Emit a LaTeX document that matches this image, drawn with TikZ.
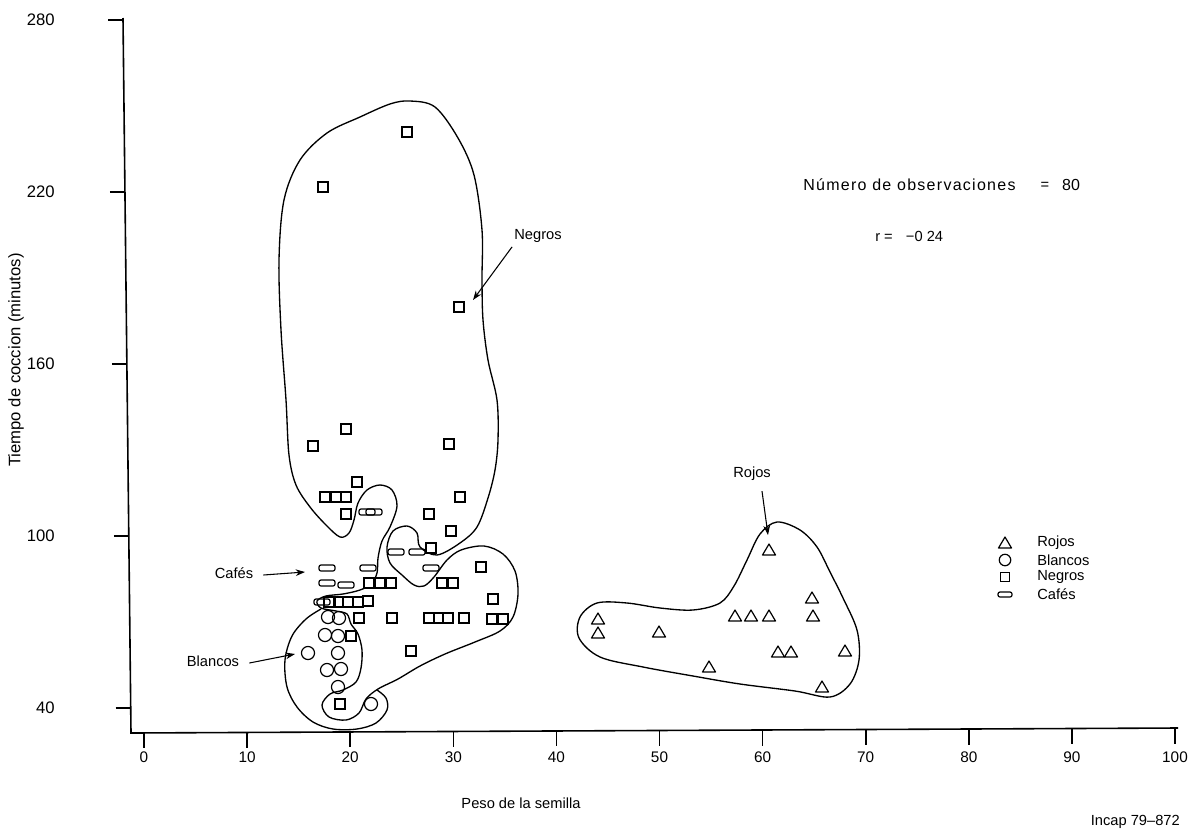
\documentclass[tikz,border=0pt]{standalone}
\usepackage{fontspec}
\setmainfont{Liberation Sans}
\usetikzlibrary{arrows.meta}

\tikzset{
  eje/.style={line width=1.2pt},
  contorno/.style={line width=1pt,line join=round},
  pto/.style={line width=0.9pt},
  txt/.style={font=\fontsize{11}{13}\selectfont,inner sep=0pt},
  num/.style={font=\fontsize{11.5}{13}\selectfont,inner sep=0pt},
  flecha/.style={-{Stealth[length=7pt,width=5pt]},line width=0.8pt},
}

\begin{document}
\begin{tikzpicture}[x=0.75pt,y=0.75pt,yscale=-1]
\useasboundingbox (0,0) rectangle (1199,836);

% ejes
\draw[eje] (123,18) -- (131,733) -- (1178,728);

\foreach \k in {0,...,10}
  {\pgfmathsetmacro\xt{144+103.1*\k}
   \pgfmathsetmacro\yt{733-4*(\xt-131)/1047}
   \draw[eje] (\xt,\yt) -- (\xt,\yt+15);
   \node[num] (tx\k) at (\xt,757) {\number\numexpr10*\k\relax};}

\foreach \v in {280,220,160,100,40}
  {\pgfmathsetmacro\yt{708-(\v-40)*2.867}
   \pgfmathsetmacro\xa{123+8*(\yt-18)/715}
   \draw[eje] (\xa-15,\yt) -- (\xa,\yt);
   \node[num,font=\fontsize{12.5}{15}\selectfont,anchor=east] (ty\v) at (55,\yt) {\v};}

\node[txt,font=\fontsize{12.5}{15}\selectfont,rotate=90] (ylab) at (16,360) {Tiempo de coccion (minutos)};
\node[txt] (xlab) at (521,803) {Peso de la semilla};
\node[txt,anchor=east] (ref) at (1180,822) {Incap 79--872};

% contornos
\draw[contorno] plot[smooth cycle,tension=0.55] coordinates {
  (410,101) (390,104) (360,117) (327,133) (300,160) (284,200) (279,260)
  (281,330) (286,400) (289,455) (296,485) (310,507) (326,525) (340,537)
  (349,533) (354,520) (358,503) (367,490) (380,485) (392,490) (397,506)
  (390,527) (382,541) (378,558) (377,573) (371,584) (360,590) (343,594)
  (326,596) (317,601) (321,608) (336,611) (347,614) (351,624) (358,634)
  (362,650) (361,668) (356,682) (343,690) (330,694) (322,705) (329,717)
  (346,720) (359,713) (366,699) (378,689) (398,679) (420,666) (445,654)
  (475,642) (500,631) (513,617) (518,594) (515,571) (503,554) (484,546)
  (461,550) (447,560) (434,577) (424,586) (414,585) (402,575) (390,563)
  (387,547) (393,531) (407,526) (417,533) (420,547) (437,555) (460,543)
  (477,527) (488,498) (495,470) (498,440) (497,400) (488,360) (483,320)
  (482,280) (482,230) (474,175) (458,138) (435,107)};

\draw[contorno] plot[smooth,tension=0.55] coordinates {
  (321,609) (306,619) (292,636) (285,660) (287,687) (297,707) (313,722)
  (333,729) (357,729) (376,723) (387,710) (386,698) (377,690)};

\draw[contorno] plot[smooth cycle,tension=0.55] coordinates {
  (777,522) (800,530) (817,547) (830,572) (843,598) (857,630) (859,660)
  (850,684) (830,697) (795,691) (740,684) (693,676) (643,667) (600,657)
  (579,638) (580,617) (597,603) (627,603) (660,608) (693,610) (720,603)
  (734,586) (747,560) (760,534)};

% negros
\foreach \x/\y in {407/132, 323/187, 459/307, 346/429, 313/446, 449/444,
    357/482, 460/497, 325/497, 336/497, 346/497, 346/514, 429/514, 451/531,
    431/548, 481/567, 369/583, 380/583, 391/583, 442/583, 453/583, 493/599,
    329/602, 340/602, 348/602, 358/602, 368/601, 359/618, 392/618, 429/618,
    439/618, 448/618, 464/618, 492/619, 503/619, 351/636, 411/651, 340/704}
  {\draw[pto,fill=white] (\x-5,\y-5) rectangle ++(10,10);}

% cafes
\foreach \x/\y in {367/512, 374/512, 396/552, 417/552, 327/568, 368/568,
    431/568, 327/583, 346/585, 322/602}
  {\draw[pto,rounded corners=1.5pt] (\x-8,\y-3) rectangle ++(16,6);}

% blancos
\foreach \x/\y in {328/617, 339/618, 325/635, 338/636, 308/653, 338/653,
    327/670, 341/669, 338/687, 371/704}
  {\draw[pto] (\x,\y) circle[radius=4.9pt];}

% rojos
\foreach \x/\y in {769/550, 812/598, 598/619, 598/633, 659/632, 735/616,
    751/616, 769/616, 813/616, 778/652, 791/652, 845/651, 709/667, 822/687}
  {\draw[pto,line join=round] (\x-6.5,\y+5) -- (\x,\y-6) -- (\x+6.5,\y+5) -- cycle;}

% etiquetas
\node[txt] (negros) at (538,236) {Negros};
\node[txt] (rojos) at (752,474) {Rojos};
\node[txt] (cafes) at (234,573) {Cafés};
\node[txt] (blancos) at (213,661) {Blancos};

\coordinate (pn) at (473,300);
\coordinate (pr) at (768,535);
\coordinate (pc) at (305,572);
\coordinate (pb) at (295,654);

\draw[flecha] (negros.south west) ++(-2,4) -- (pn);
\draw[flecha] (rojos.south) ++(10,10) -- (pr);
\draw[flecha] (cafes.east) ++(10,2) -- (pc);
\draw[flecha] (blancos.east) ++(10,2) -- (pb);

\node[txt,anchor=west,font=\fontsize{12}{14}\selectfont\addfontfeature{LetterSpace=8}]
  (nobs) at (803,185) {Número de observaciones};
\node[txt] (igual) at (1045,186) {=};
\node[txt,font=\fontsize{12}{14}\selectfont] (nval) at (1071,185) {80};
\node[txt,anchor=west] (rval) at (875,236) {r =\hspace{0.9em}−0 24};

% leyenda
\draw[pto,line join=round] (998.5,548) -- (1005,537) -- (1011.5,548) -- cycle;
\draw[pto] (1005,560) circle[radius=4.3pt];
\draw[pto] (1000.5,572.5) rectangle ++(9,9);
\draw[pto,rounded corners=1.5pt] (998,592) rectangle ++(14,5);
\node[txt,anchor=west] (lr) at (1037,543) {Rojos};
\node[txt,anchor=west] (lb) at (1037,560) {Blancos};
\node[txt,anchor=west] (ln) at (1037,577) {Negros};
\node[txt,anchor=west] (lc) at (1037,594) {Cafés};

\end{tikzpicture}
\end{document}
